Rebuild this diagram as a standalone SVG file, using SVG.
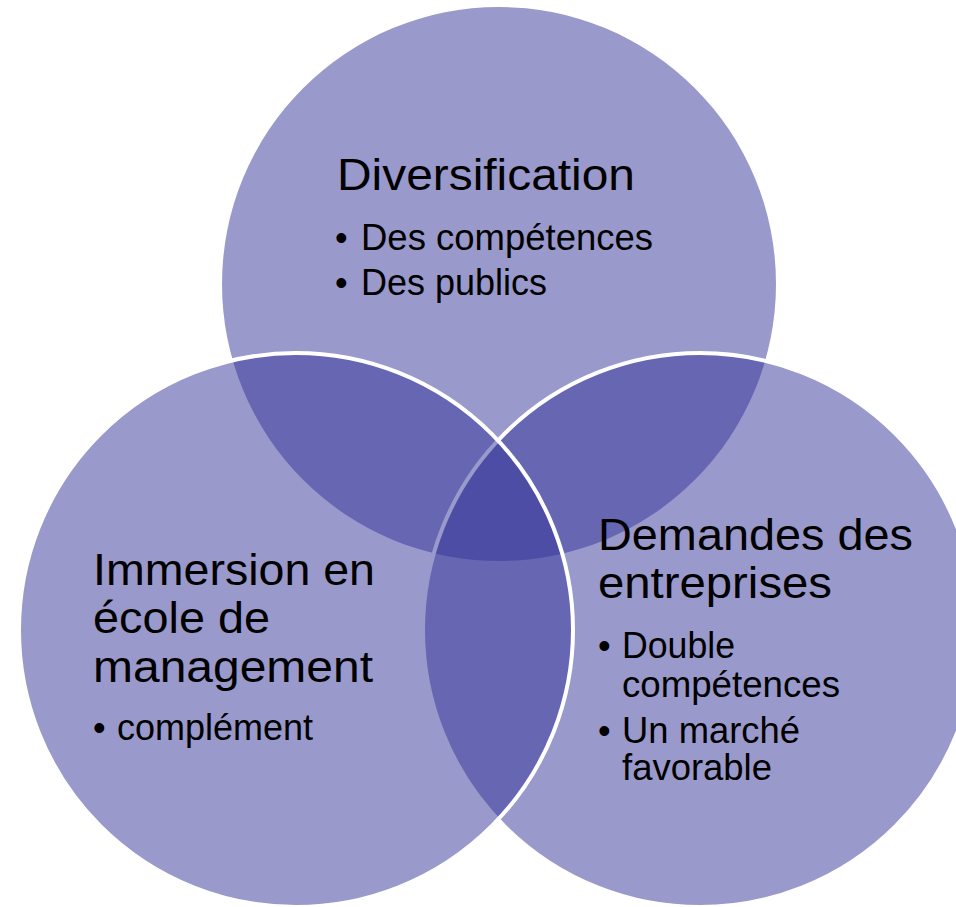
<svg xmlns="http://www.w3.org/2000/svg" width="956" height="907" viewBox="0 0 956 907">
<style>
.c{fill:#333399;fill-opacity:0.5}
.s{stroke:#ffffff;stroke-width:4}
.h{font-family:"Liberation Sans",Arial,sans-serif;font-size:44px;fill:#000000}
.b{font-family:"Liberation Sans",Arial,sans-serif;font-size:36px;fill:#000000}
</style>
<rect width="956" height="907" fill="#ffffff"/>
<g id="diversification">
<circle class="c" cx="499" cy="284" r="277"/>
<text class="h" x="337" y="190" textLength="298" lengthAdjust="spacingAndGlyphs">Diversification</text>
<text class="b" x="335" y="250">•</text>
<text class="b" x="361" y="250" textLength="292" lengthAdjust="spacingAndGlyphs">Des compétences</text>
<text class="b" x="335" y="295">•</text>
<text class="b" x="361" y="295" textLength="186" lengthAdjust="spacingAndGlyphs">Des publics</text>
</g>
<g id="demandes">
<circle class="c s" cx="700" cy="630" r="277"/>
<text class="h" x="598" y="550" textLength="315" lengthAdjust="spacingAndGlyphs">Demandes des</text>
<text class="h" x="598" y="598" textLength="234" lengthAdjust="spacingAndGlyphs">entreprises</text>
<text class="b" x="598" y="658">•</text>
<text class="b" x="622" y="658" textLength="113" lengthAdjust="spacingAndGlyphs">Double</text>
<text class="b" x="622" y="697" textLength="218" lengthAdjust="spacingAndGlyphs">compétences</text>
<text class="b" x="598" y="743">•</text>
<text class="b" x="622" y="743" textLength="178" lengthAdjust="spacingAndGlyphs">Un marché</text>
<text class="b" x="622" y="780" textLength="150" lengthAdjust="spacingAndGlyphs">favorable</text>
</g>
<g id="immersion">
<circle class="c s" cx="296" cy="630" r="277"/>
<text class="h" x="93" y="585" textLength="282" lengthAdjust="spacingAndGlyphs">Immersion en</text>
<text class="h" x="93" y="633" textLength="177" lengthAdjust="spacingAndGlyphs">école de</text>
<text class="h" x="93" y="682" textLength="280" lengthAdjust="spacingAndGlyphs">management</text>
<text class="b" x="93" y="740">•</text>
<text class="b" x="117" y="740" textLength="196" lengthAdjust="spacingAndGlyphs">complément</text>
</g>
<g id="connectors"/>
</svg>
